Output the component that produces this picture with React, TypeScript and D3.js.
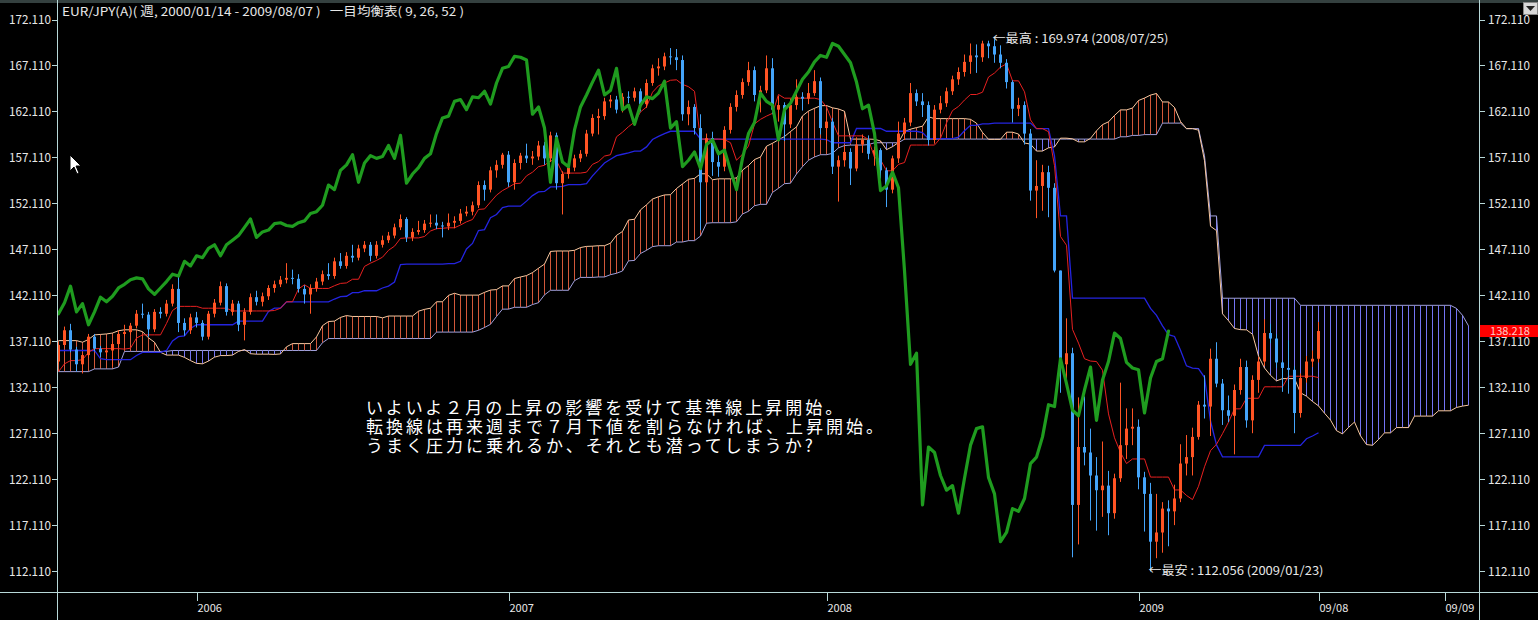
import * as d3 from "d3";

// weekly EUR/JPY, first bar = week ending 2005/07/29
const START_DATE = new Date(2005, 6, 29);
const PRE_CLOSE = 134.9;

// 77 weeks before the first visible bar (2004/02/06 - 2005/07/22), needed by the 52-week span
const PRE_HIGHS = [
  135.5, 135.0, 134.3, 133.8, 133.5, 132.5, 131.0, 130.0, 129.8, 129.5, 129.0, 130.8, 133.0,
  134.0, 134.5, 134.8, 135.5, 135.6, 134.8, 133.8, 134.2, 135.0, 135.2, 135.8, 136.0, 134.8,
  135.2, 135.0, 134.8, 134.6, 134.5, 134.8, 135.2, 135.6, 136.2, 136.4, 136.5, 136.3, 136.8,
  137.5, 137.6, 137.8, 138.6, 139.5, 140.2, 140.5, 140.6, 141.0,
  139.8, 137.6, 136.8, 136.4, 135.8, 136.2, 136.8, 138.5, 139.4, 140.6, 141.6, 139.8,
  138.6, 138.8, 138.2, 139.2, 139.6, 138.6, 137.2, 136.0, 135.4, 134.2, 133.6, 133.8, 133.4,
  134.0, 134.6, 135.4, 135.8,
];
const PRE_LOWS = [
  133.0, 133.2, 131.6, 131.0, 130.5, 129.5, 128.5, 127.8, 127.0, 127.2, 126.6, 127.0, 130.4,
  130.4, 131.8, 132.5, 133.2, 133.0, 132.5, 130.4, 132.0, 132.8, 133.4, 134.0, 133.2, 132.6,
  133.0, 133.3, 133.5, 132.8, 132.5, 133.0, 133.4, 133.8, 134.0, 134.5, 134.8, 134.5, 134.6,
  135.2, 135.5, 135.8, 136.5, 137.5, 137.8, 138.5, 138.8, 139.2,
  136.2, 135.4, 134.2, 134.8, 134.2, 134.6, 135.6, 136.2, 137.2, 138.4, 139.2, 137.6,
  136.8, 137.2, 136.0, 137.2, 137.8, 136.4, 135.2, 134.3, 133.4, 131.2, 130.6, 131.5, 131.0,
  131.2, 132.8, 133.6, 133.8,
];

// visible weeks 2005/07/29 - 2009/08/07
const CLOSES = [
  136.7, 138.3, 136.2, 134.6, 135.6, 137.6, 136.3, 135.9, 136.1, 136.8,
  137.9, 138.1, 138.8, 140.1, 140.0, 138.4, 140.3, 140.1, 141.2, 142.8,
  139.1, 138.3, 139.7, 139.1, 137.6, 140.1, 141.3, 143.1, 140.3, 141.2,
  138.9, 140.3, 141.9, 141.4, 142.0, 142.9, 143.3, 143.8, 144.0, 143.9,
  142.8, 142.2, 142.9, 143.6, 144.4, 144.2, 145.8, 145.3, 146.4, 146.2,
  147.2, 147.6, 146.4, 147.6, 148.1, 148.6, 149.5, 150.4, 148.4, 149.0,
  149.2, 149.9, 150.0, 149.7, 149.6, 150.0, 150.2, 151.0, 151.2, 151.9,
  154.1, 153.6, 155.7, 156.3, 157.4, 154.4, 156.5, 157.3, 157.0, 157.2,
  158.4, 157.0, 159.5, 154.3, 155.3, 156.0, 157.0, 157.5, 159.7, 161.4,
  161.6, 163.2, 163.4, 162.3, 163.7, 163.6, 164.3, 162.9, 165.2, 166.8,
  167.0, 168.1, 168.0, 167.7, 161.8, 162.6, 160.3, 154.4, 159.2, 156.6,
  156.1, 160.1, 162.6, 163.9, 165.3, 166.6, 163.9, 164.4, 166.8, 162.3,
  162.8, 160.7, 162.8, 163.7, 163.5, 164.1, 165.4, 160.3, 161.0, 156.1,
  156.8, 157.7, 155.9, 158.5, 159.0, 157.5, 157.9, 155.7, 153.6, 157.0,
  159.7, 160.9, 164.1, 163.2, 162.8, 159.0, 162.3, 163.0, 164.3, 165.6,
  166.4, 167.5, 168.2, 168.0, 169.5, 169.2, 168.3, 167.4, 165.3, 162.4,
  162.8, 159.7, 153.5, 154.0, 155.5, 153.8, 144.8, 134.6, 135.8, 119.3,
  125.6, 125.0, 122.5, 120.9, 121.4, 118.4, 122.2, 125.8, 127.6, 127.8,
  122.3, 120.5, 115.3, 116.3, 118.9, 118.6, 120.0, 123.8, 124.5, 126.7,
  130.2, 130.0, 135.2, 132.5, 129.6, 129.0, 131.8, 134.3, 128.5, 132.9,
  134.9, 138.0, 137.4, 134.8, 134.2, 134.0, 129.3, 133.1, 134.9, 135.2,
  138.218,
];
const HIGHS = [
  137.0, 138.7, 139.0, 136.5, 135.9, 137.9, 137.9, 136.6, 136.6, 137.1,
  138.3, 138.9, 139.1, 140.5, 141.2, 140.3, 140.6, 140.8, 141.6, 143.3,
  144.2, 139.6, 140.1, 140.3, 139.4, 140.4, 141.7, 143.6, 143.4, 141.6,
  141.5, 140.7, 142.3, 142.6, 142.4, 143.2, 143.7, 144.2, 145.6, 144.9,
  144.4, 143.2, 143.3, 144.0, 144.8, 145.6, 146.2, 146.7, 146.8, 147.6,
  147.6, 148.0, 147.9, 148.0, 148.6, 149.0, 149.9, 150.9, 150.6, 149.4,
  150.2, 150.3, 150.9, 150.9, 150.1, 151.0, 150.7, 151.5, 151.8, 152.3,
  154.5, 154.6, 156.1, 156.8, 157.6, 157.8, 156.9, 157.6, 158.6, 157.8,
  158.9, 158.8, 159.9, 159.8, 155.6, 156.6, 157.4, 157.9, 160.1, 161.8,
  162.4, 163.6, 163.9, 163.8, 164.1, 164.3, 164.7, 164.6, 165.6, 167.2,
  167.9, 168.5, 169.0, 168.9, 168.2, 163.3, 162.9, 161.8, 159.7, 159.9,
  157.9, 160.5, 163.0, 164.4, 165.7, 167.5, 167.0, 164.9, 168.2, 167.9,
  163.8, 163.1, 163.5, 165.6, 164.2, 165.2, 166.6, 165.8, 161.9, 161.4,
  157.3, 158.4, 158.1, 159.3, 159.6, 159.5, 158.3, 158.1, 156.0, 157.3,
  161.0, 161.4, 165.2, 164.5, 164.1, 163.2, 162.8, 163.8, 164.7, 166.0,
  166.9, 168.3, 169.5, 169.4, 169.8, 169.8, 169.974, 169.3, 167.8, 165.5,
  163.6, 163.2, 160.2, 156.8, 156.3, 156.2, 154.3, 144.8, 139.6, 136.4,
  131.0, 131.1, 127.6, 124.5, 126.2, 123.0, 122.7, 132.6, 129.8, 129.8,
  128.6, 122.9, 121.7, 120.5, 119.6, 119.8, 121.5, 125.9, 126.9, 127.7,
  130.6, 133.4, 136.3, 137.0, 133.0, 131.2, 132.4, 135.2, 135.0, 133.4,
  135.4, 139.5, 139.0, 137.9, 135.0, 137.2, 134.4, 133.6, 135.5, 136.1,
  139.2,
];
const LOWS = [
  134.6, 136.4, 135.9, 133.8, 133.6, 135.3, 136.0, 135.4, 135.5, 134.4,
  136.5, 137.6, 137.8, 138.5, 139.6, 137.6, 138.1, 139.6, 139.8, 140.9,
  138.1, 137.7, 137.9, 138.6, 137.2, 137.3, 139.7, 141.0, 139.9, 139.9,
  138.2, 137.2, 140.0, 141.0, 140.9, 141.6, 142.4, 143.0, 143.4, 143.3,
  142.4, 141.2, 140.1, 142.5, 143.2, 143.8, 143.9, 145.0, 145.0, 145.7,
  145.9, 146.8, 145.8, 146.1, 147.3, 147.8, 148.3, 149.2, 147.9, 148.0,
  148.7, 148.9, 149.5, 149.3, 148.4, 149.2, 149.4, 149.9, 150.7, 150.8,
  151.6, 152.4, 153.3, 154.9, 155.9, 153.9, 153.6, 155.8, 156.5, 156.3,
  156.8, 156.3, 156.6, 153.6, 150.9, 154.8, 155.6, 156.6, 157.2, 159.4,
  159.6, 161.2, 162.5, 161.9, 162.0, 163.0, 163.2, 162.1, 162.5, 164.9,
  166.0, 166.6, 167.2, 166.6, 161.1, 160.6, 159.6, 149.2, 154.0, 155.1,
  155.0, 155.6, 159.7, 162.1, 163.5, 164.9, 163.2, 162.0, 164.1, 161.8,
  161.0, 158.9, 160.3, 162.3, 162.2, 162.9, 163.8, 159.6, 158.6, 155.3,
  152.3, 156.1, 154.1, 155.6, 157.6, 156.9, 156.2, 154.8, 151.7, 153.2,
  156.5, 159.0, 160.5, 162.7, 161.5, 158.4, 158.6, 161.9, 162.6, 163.9,
  165.0, 165.9, 166.2, 166.3, 167.5, 167.9, 167.4, 166.8, 164.6, 160.9,
  161.6, 158.5, 152.4, 150.5, 151.3, 150.6, 144.6, 131.5, 133.0, 113.6,
  115.0, 123.6, 117.6, 116.5, 118.0, 116.0, 117.8, 121.8, 124.3, 125.8,
  121.0, 116.4, 112.056, 113.5, 114.1, 114.8, 117.1, 119.6, 122.5, 122.5,
  126.4, 128.7, 126.8, 132.1, 128.0, 128.3, 124.8, 131.3, 127.7, 127.1,
  131.5, 134.4, 136.9, 134.2, 131.6, 131.4, 127.1, 128.8, 132.6, 134.3,
  134.8,
];

const Y_TICKS = [172.11, 167.11, 162.11, 157.11, 152.11, 147.11, 142.11, 137.11, 132.11, 127.11, 122.11, 117.11, 112.11];
const X_TICK_LABELS = ["2006", "2007", "2008", "2009", "09/08", "09/09"];
const X_TICK_INDEX = [23, 75, 128, 180, 210, 231];

const ICHIMOKU = [9, 26, 52];
const SHIFT = 25;

const NOTE_LINES = [
  "いよいよ２月の上昇の影響を受けて基準線上昇開始。",
  "転換線は再来週まで７月下値を割らなければ、上昇開始。",
  "うまく圧力に乗れるか、それとも潜ってしまうか?",
];

const COLORS = {
  bg: "#000000",
  axis: "#b8d8d8",
  text: "#e8e8e8",
  up: "#ff5424",
  down: "#44a4fa",
  tenkan: "#e82020",
  kijun: "#2424e0",
  chikou: "#1f9c1f",
  spanA: "#f8c8a0",
  spanB: "#a0a0dc",
  hatchUp: "#d2583a",
  hatchDown: "#7474f4",
};

const JP_FONT = "'Noto Sans CJK JP', 'Noto Sans', sans-serif";

export default function App() {
  const width = 1538;
  const height = 620;
  const plot = { left: 58, right: 1480, top: 0, bottom: 592 };
  const [T, K, B] = ICHIMOKU;
  const N = CLOSES.length;
  const P = PRE_HIGHS.length;

  const opens = CLOSES.map((c, i) => (i === 0 ? PRE_CLOSE : CLOSES[i - 1]));
  const allHigh = PRE_HIGHS.concat(HIGHS);
  const allLow = PRE_LOWS.concat(LOWS);

  // (highest high + lowest low) / 2 over n bars ending at "end"
  const midRange = (end: number, n: number) => {
    const hi = d3.max(allHigh.slice(end - n + 1, end + 1)) as number;
    const lo = d3.min(allLow.slice(end - n + 1, end + 1)) as number;
    return (hi + lo) / 2;
  };

  const tenkan = CLOSES.map((_, i) => midRange(P + i, T));
  const kijun = CLOSES.map((_, i) => midRange(P + i, K));
  const cloud = d3.range(N + SHIFT).map((k) => {
    const s = P + k - SHIFT;
    return { k, a: (midRange(s, T) + midRange(s, K)) / 2, b: midRange(s, B) };
  });
  const chikou = CLOSES.map((c, i) => ({ k: i - SHIFT, v: c })).filter((d) => d.k >= 0);

  const x = d3.scaleLinear().domain([0, 1]).range([58.5, 64.5]);
  const y = d3.scaleLinear().domain([112.11, 172.11]).range([571, 19.5]);

  const lineIdx = d3
    .line<number>()
    .x((_, i) => x(i))
    .y((d) => y(d));
  const spanLine = (key: "a" | "b") =>
    d3
      .line<{ k: number; a: number; b: number }>()
      .x((d) => x(d.k))
      .y((d) => y(d[key]))(cloud) as string;
  const chikouPath = d3
    .line<{ k: number; v: number }>()
    .x((d) => x(d.k))
    .y((d) => y(d.v))(chikou) as string;

  const fmt = d3.format(".3f");
  const dateFmt = d3.timeFormat("%Y/%m/%d");
  const dateOf = (i: number) => d3.timeDay.offset(START_DATE, 7 * i);

  const hiIdx = d3.maxIndex(HIGHS);
  const loIdx = d3.minIndex(LOWS);
  const last = CLOSES[N - 1];

  return (
    <>
      <style>{`body{margin:0;background:#000}`}</style>
      <svg width={width} height={height} style={{ display: "block", background: COLORS.bg }}>
        <defs>
          <clipPath id="plot-clip">
            <rect x={plot.left} y={plot.top} width={plot.right - plot.left} height={plot.bottom - plot.top} />
          </clipPath>
        </defs>
        <rect width={width} height={height} fill={COLORS.bg} />
        <rect width={width} height={3} fill="#34403f" />

        <g clipPath="url(#plot-clip)">
          {/* cloud hatching */}
          {cloud.map((d) =>
            Math.abs(d.a - d.b) < 0.01 ? null : (
              <line
                key={"h" + d.k}
                x1={x(d.k)}
                x2={x(d.k)}
                y1={y(d.a)}
                y2={y(d.b)}
                stroke={d.a > d.b ? COLORS.hatchUp : COLORS.hatchDown}
                strokeWidth={1}
              />
            )
          )}
          <path d={spanLine("b")} fill="none" stroke={COLORS.spanB} strokeWidth={1} />
          <path d={spanLine("a")} fill="none" stroke={COLORS.spanA} strokeWidth={1} />

          <path d={lineIdx(kijun) as string} fill="none" stroke={COLORS.kijun} strokeWidth={1.3} />
          <path d={lineIdx(tenkan) as string} fill="none" stroke={COLORS.tenkan} strokeWidth={1} />

          {/* candles */}
          {CLOSES.map((c, i) => {
            const o = opens[i];
            const color = c >= o ? COLORS.up : COLORS.down;
            const top = y(Math.max(o, c));
            const bot = y(Math.min(o, c));
            return (
              <g key={"c" + i}>
                <line x1={x(i)} x2={x(i)} y1={y(HIGHS[i])} y2={y(LOWS[i])} stroke={color} strokeWidth={1} />
                <rect x={x(i) - 1.5} y={top} width={3} height={Math.max(1, bot - top)} fill={color} />
              </g>
            );
          })}

          <path
            d={chikouPath}
            fill="none"
            stroke={COLORS.chikou}
            strokeWidth={3.2}
            strokeLinejoin="round"
            strokeLinecap="round"
          />
        </g>

        {/* axes */}
        <line x1={57.5} x2={57.5} y1={0} y2={height} stroke={COLORS.axis} />
        <line x1={1479.5} x2={1479.5} y1={0} y2={height} stroke={COLORS.axis} />
        <line x1={0} x2={width} y1={592.5} y2={592.5} stroke={COLORS.axis} />

        {Y_TICKS.map((t) => (
          <g key={"y" + t} fontFamily={JP_FONT} fontSize={12} fill={COLORS.text}>
            <line x1={52} x2={57} y1={Math.round(y(t)) + 0.5} y2={Math.round(y(t)) + 0.5} stroke={COLORS.axis} />
            <line x1={1480} x2={1485} y1={Math.round(y(t)) + 0.5} y2={Math.round(y(t)) + 0.5} stroke={COLORS.axis} />
            <text x={51} y={y(t) + 4.5} textAnchor="end" textLength={42} lengthAdjust="spacingAndGlyphs">
              {fmt(t)}
            </text>
            <text x={1488} y={y(t) + 4.5} textLength={42} lengthAdjust="spacingAndGlyphs">
              {fmt(t)}
            </text>
          </g>
        ))}

        {X_TICK_INDEX.map((k, j) => (
          <g key={"x" + k} fontFamily={JP_FONT} fontSize={11} fill={COLORS.text}>
            <line x1={Math.round(x(k)) + 0.5} x2={Math.round(x(k)) + 0.5} y1={593} y2={601} stroke={COLORS.axis} />
            <text x={x(k) + 1} y={612}>
              {X_TICK_LABELS[j]}
            </text>
          </g>
        ))}

        {/* last price */}
        <rect x={1480} y={y(last) - 6} width={58} height={12} fill="#ff0000" />
        <text x={1490} y={y(last) + 4} fontFamily={JP_FONT} fontSize={11} fill="#ffc8c8" textLength={40} lengthAdjust="spacingAndGlyphs">
          {fmt(last)}
        </text>

        {/* header */}
        <text
          x={62}
          y={16}
          fontFamily={JP_FONT}
          fontSize={12}
          fill={COLORS.text}
          style={{ whiteSpace: "pre" }}
          textLength={402}
          lengthAdjust="spacingAndGlyphs"
        >
          {`EUR/JPY(A)( 週, 2000/01/14 - ${dateFmt(dateOf(N - 1))} )   一目均衡表( ${T}, ${K}, ${B} )`}
        </text>

        {/* high / low marks */}
        <text x={x(hiIdx) - 2} y={y(HIGHS[hiIdx]) + 4} fontFamily={JP_FONT} fontSize={12} fill={COLORS.text} textLength={176} lengthAdjust="spacingAndGlyphs" style={{ whiteSpace: "pre" }}>
          {`←最高 : ${fmt(HIGHS[hiIdx])} (${dateFmt(dateOf(hiIdx))})`}
        </text>
        <text x={x(loIdx) - 2} y={y(LOWS[loIdx]) + 4} fontFamily={JP_FONT} fontSize={12} fill={COLORS.text} textLength={175} lengthAdjust="spacingAndGlyphs" style={{ whiteSpace: "pre" }}>
          {`←最安 : ${fmt(LOWS[loIdx])} (${dateFmt(dateOf(loIdx))})`}
        </text>

        {/* comment */}
        {NOTE_LINES.map((s, i) => (
          <text key={"n" + i} x={366} y={414 + i * 19} fontFamily={JP_FONT} fontSize={17} letterSpacing={3} fill="#ffffff">
            {s}
          </text>
        ))}

        {/* dropdown button and mouse pointer */}
        <rect x={1523.5} y={2.5} width={14} height={12} fill="#d8d8d8" stroke="#888" />
        <polygon points="1526,6 1535,6 1530.5,11" fill="#222" />
        <polygon points="70,155 70,171 74,167 77,174 79,173 76,166 81,166" fill="#fff" stroke="#000" strokeWidth={1} />
      </svg>
    </>
  );
}
